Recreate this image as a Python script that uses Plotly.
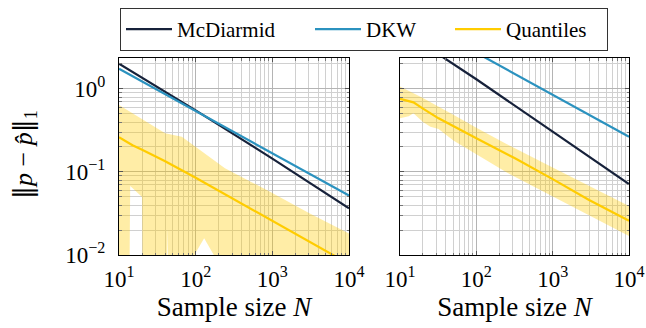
import plotly.graph_objects as go
from plotly.subplots import make_subplots

# ---------------- data ----------------
N_dec = [10, 100, 1000, 10000]

# left panel
mcd_left = [2.02, 0.553, 0.145, 0.0366]
dkw_left = [1.75, 0.543, 0.168, 0.052]
q_left_N = [10, 15, 20, 31, 40, 100, 326, 1000, 3000, 10000]
q_left_med = [0.262, 0.21, 0.185, 0.153, 0.135, 0.085, 0.046, 0.026, 0.0145, 0.0078]
q_left_up_N = [10, 15, 20, 30, 40, 66, 100, 241, 1000, 3000, 10000]
q_left_up = [0.64, 0.509, 0.432, 0.342, 0.292, 0.266, 0.2, 0.111, 0.056, 0.032, 0.0182]
q_left_lo_N = [10, 13.5, 14, 20, 20.5, 41, 43, 45, 93, 129, 178, 300, 10000]
q_left_lo = [0.001, 0.001, 0.068, 0.05, 0.001, 0.001, 0.021, 0.001, 0.0095, 0.0159, 0.0095, 0.002, 0.002]

# right panel
mcd_right = [5.3, 1.31, 0.306, 0.0716]
dkw_right = [8.75, 2.73, 0.853, 0.266]
q_right_N = [10, 15, 20, 32, 100, 321, 1000, 3000, 10000]
q_right_med = [0.76, 0.69, 0.58, 0.443, 0.255, 0.146, 0.082, 0.046, 0.0259]
q_right_up_N = [10, 15, 20, 30, 50, 100, 238, 1000, 3000, 10000]
q_right_up = [1.07, 0.9, 0.78, 0.63, 0.49, 0.34, 0.222, 0.113, 0.068, 0.039]
q_right_lo_N = [10, 13, 15, 20, 25, 32, 50, 100, 238, 1000, 3000, 10000]
q_right_lo = [0.443, 0.47, 0.51, 0.40, 0.35, 0.33, 0.239, 0.163, 0.101, 0.051, 0.030, 0.0169]

# tick labels / tick positions
x_tickvals = [10, 100, 1000, 10000]
x_ticktext = ["10<sup>1</sup>", "10<sup>2</sup>", "10<sup>3</sup>", "10<sup>4</sup>"]
x_minor = [20, 30, 40, 50, 60, 70, 80, 90,
           200, 300, 400, 500, 600, 700, 800, 900,
           2000, 3000, 4000, 5000, 6000, 7000, 8000, 9000]
y_tickvals = [0.01, 0.1, 1]
y_ticktext = ["10<sup>−2</sup>", "10<sup>−1</sup>", "10<sup>0</sup>"]
y_minor = [0.02, 0.03, 0.04, 0.05, 0.06, 0.07, 0.08, 0.09,
           0.2, 0.3, 0.4, 0.5, 0.6, 0.7, 0.8, 0.9, 2]

C_MCD = "#16213a"
C_DKW = "#2b92bf"
C_Q = "#ffcc00"
C_BAND = "rgba(255,204,0,0.35)"

FONT = "Liberation Serif"

fig = make_subplots(rows=1, cols=2, shared_yaxes=False)


def add_panel(col, mcd, dkw, qN, qmed, upN, up, loN, lo, show):
    fig.add_trace(go.Scatter(
        x=upN + loN[::-1], y=up + lo[::-1], fill="toself", fillcolor=C_BAND,
        line=dict(width=0), mode="lines", hoverinfo="skip", showlegend=False),
        row=1, col=col)
    fig.add_trace(go.Scatter(x=N_dec, y=mcd, mode="lines", name="McDiarmid",
                             line=dict(color=C_MCD, width=2.2), showlegend=show,
                             legendwidth=128),
                  row=1, col=col)
    fig.add_trace(go.Scatter(x=N_dec, y=dkw, mode="lines", name="DKW",
                             line=dict(color=C_DKW, width=2.2), showlegend=show,
                             legendwidth=79),
                  row=1, col=col)
    fig.add_trace(go.Scatter(x=qN, y=qmed, mode="lines", name="Quantiles",
                             line=dict(color=C_Q, width=2.2), showlegend=show,
                             legendwidth=96),
                  row=1, col=col)


add_panel(1, mcd_left, dkw_left, q_left_N, q_left_med, q_left_up_N, q_left_up,
          q_left_lo_N, q_left_lo, True)
add_panel(2, mcd_right, dkw_right, q_right_N, q_right_med, q_right_up_N, q_right_up,
          q_right_lo_N, q_right_lo, False)

W, H = 646, 328
xdom1 = [119 / W, 349 / W]
xdom2 = [400 / W, 629 / W]
ydom = [1 - 255 / H, 1 - 58 / H]

axis_common = dict(
    type="log", showline=True, linecolor="black", linewidth=1, mirror="ticks",
    ticks="inside", ticklen=4, tickcolor="#555",
    showgrid=True, gridcolor="#b4b4b4", gridwidth=1,
    zeroline=False, automargin=False,
    tickfont=dict(family=FONT, size=23, color="black"),
)
minor_common = dict(showgrid=True, gridcolor="#d0d0d0", gridwidth=1, ticks="inside",
                    ticklen=2.5, tickcolor="#777")

TITLE_FONT = dict(family=FONT, size=27, color="black")

fig.update_xaxes(**axis_common, range=[1, 4], tickvals=x_tickvals,
                 ticktext=x_ticktext, ticklabelstandoff=3,
                 minor=dict(tickvals=x_minor, **minor_common))
fig.update_xaxes(domain=xdom1, row=1, col=1,
                 title=dict(text="Sample size <i>N</i>", standoff=0, font=TITLE_FONT))
fig.update_xaxes(domain=xdom2, row=1, col=2,
                 title=dict(text="Sample size <i>N</i>", standoff=0, font=TITLE_FONT))
fig.update_yaxes(**axis_common, range=[-2, 0.373], domain=ydom,
                 tickvals=y_tickvals, ticktext=y_ticktext, ticklabelstandoff=8,
                 minor=dict(tickvals=y_minor, **minor_common))
fig.update_yaxes(row=1, col=2, showticklabels=False)

BAR = "<span style='font-family:DejaVu Serif'>‖</span>"

fig.update_layout(
    width=W, height=H,
    margin=dict(l=0, r=0, t=0, b=0),
    paper_bgcolor="white", plot_bgcolor="white",
    font=dict(family=FONT, size=19, color="black"),
    legend=dict(orientation="h", x=120 / W, xanchor="left",
                y=1 - 8 / H, yanchor="top", bgcolor="white",
                bordercolor="#333", borderwidth=1, itemwidth=46,
                font=dict(family=FONT, size=21, color="black")),
    showlegend=True,
    annotations=[dict(
        text=BAR + "<i>p</i> − <i>p̂</i>" + BAR + "<sub>1</sub>", textangle=-90,
        xref="paper", yref="paper", x=24 / W, y=1 - 155 / H,
        xanchor="center", yanchor="middle", showarrow=False,
        font=dict(family=FONT, size=26, color="black"))],
)

fig.write_html("out.html", config={"displayModeBar": False},
               post_script="document.body.style.margin='0';document.body.style.padding='0';")
